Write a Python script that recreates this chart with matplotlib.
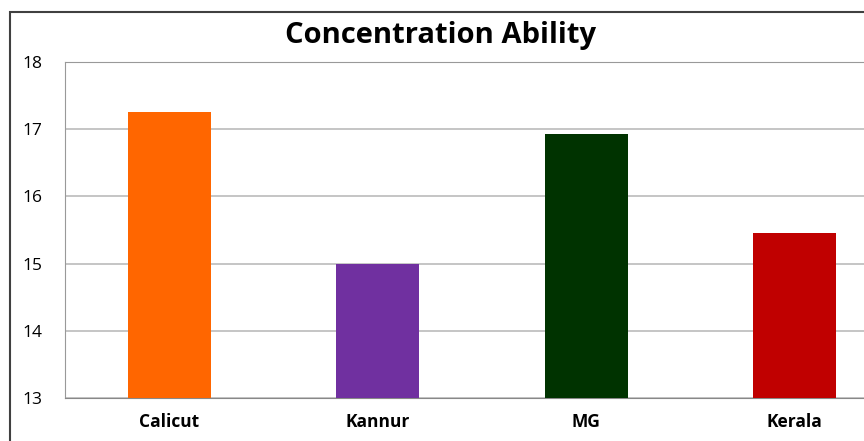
import numpy as np
import matplotlib.pyplot as plt
from matplotlib.patches import Rectangle

# data
regions = ["Calicut", "Kannur", "MG", "Kerala"]
scores  = [17.26, 15.0, 16.93, 15.46]
colors  = ["#FF6600", "#7030A0", "#003300", "#C00000"]
yticks  = [13, 14, 15, 16, 17, 18]

plt.rcParams['font.family'] = ['Open Sans', 'DejaVu Sans']

fig = plt.figure(figsize=(8.64, 4.41), dpi=100)
fig.patch.set_facecolor("white")

# outer chart border (runs off the right / bottom of the crop)
fig.patches.append(Rectangle((10/864, -0.1), 1.2, 1.1 - 12/441, transform=fig.transFigure,
                             fill=False, edgecolor="#404040", linewidth=1.5))

ax = fig.add_axes([65/864, 1 - 398/441, 834/864, 336/441])
x = np.arange(len(regions))
ax.bar(x, scores, width=0.4, color=colors, zorder=3)

ax.set_xlim(-0.5, len(regions) - 0.5)
ax.set_ylim(13, 18)
ax.set_yticks(yticks)
ax.set_xticks(x)
ax.set_xticklabels(regions, fontweight="bold", fontsize=12.5)
ax.tick_params(axis="y", labelsize=12.5, length=0, pad=16)
ax.tick_params(axis="x", length=0, pad=11)
ax.yaxis.grid(True, color="#BBBBBB", linewidth=1.2, zorder=0)

ax.spines["right"].set_visible(False)
ax.spines["top"].set_color("#999999")
ax.spines["left"].set_color("#999999")
ax.spines["bottom"].set_color("#888888")

fig.text(441/864, 1 - 35/441, "Concentration Ability", ha="center", va="center",
         fontsize=21, fontweight="bold")

fig.savefig("out.png", dpi=100)
